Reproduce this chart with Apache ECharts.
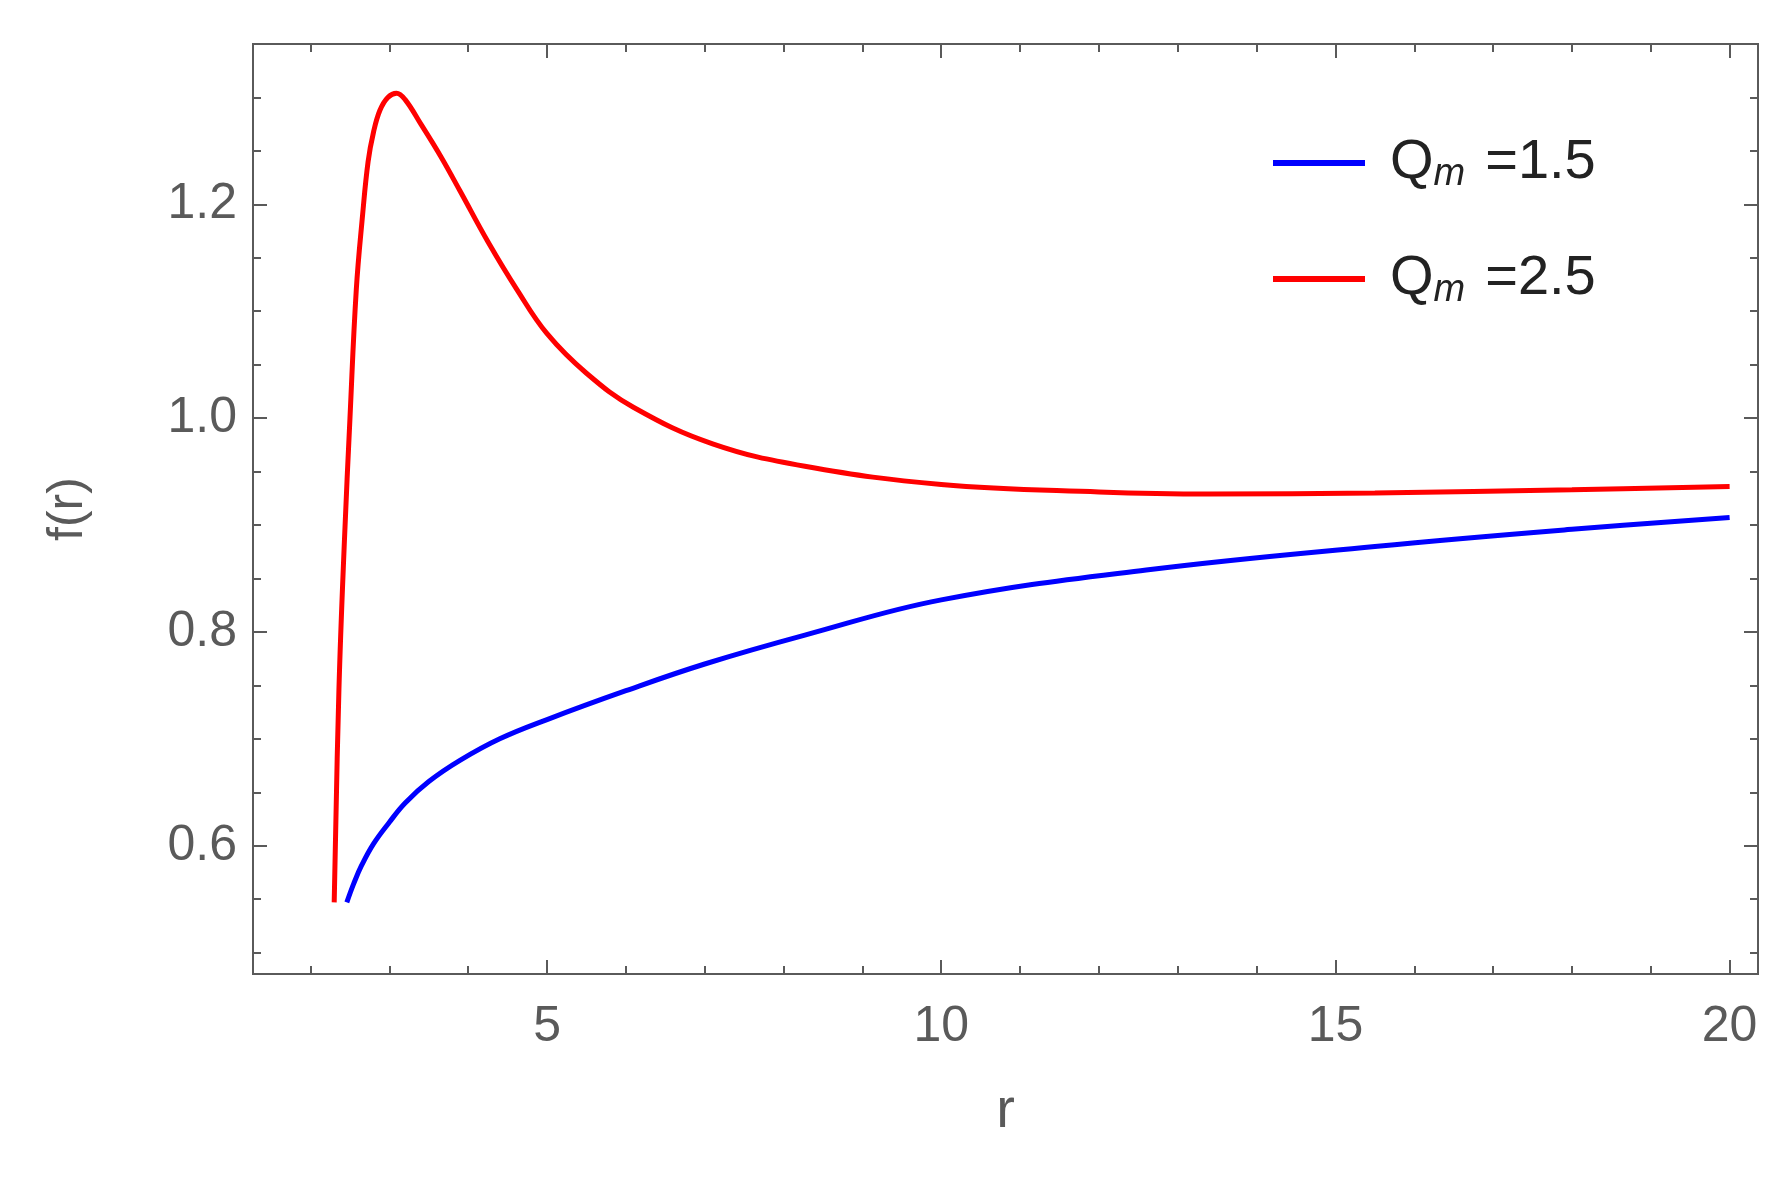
<!DOCTYPE html>
<html>
<head>
<meta charset="utf-8">
<script src="https://cdn.jsdelivr.net/npm/echarts@6/dist/echarts.min.js"></script>
<style>html,body{margin:0;padding:0;background:#fff}#main{width:1792px;height:1183px}</style>
</head>
<body>
<div id="main"></div>
<script>
// values
var redR = [2.30, 2.36, 2.43, 2.50, 2.58, 2.66, 2.73, 2.80, 2.88, 2.98, 3.09, 3.20, 3.40, 3.65, 3.90, 4.25, 4.62, 5.0, 5.5, 6.1, 7.1, 8.27, 10, 12, 13.4, 15.5, 18, 20];
var redF = [0.547, 0.746, 0.886, 1.00, 1.12, 1.19, 1.24, 1.268, 1.288, 1.300, 1.304, 1.298, 1.275, 1.245, 1.212, 1.165, 1.120, 1.079, 1.042, 1.010, 0.976, 0.955, 0.938, 0.931, 0.929, 0.930, 0.933, 0.936];
var blueR = [2.46, 2.55, 2.65, 2.8, 3.0, 3.2, 3.5, 3.9, 4.4, 5.0, 6.0, 7.0, 8.27, 10, 12.6, 15.5, 18, 20];
var blueF = [0.547, 0.565, 0.582, 0.602, 0.622, 0.640, 0.660, 0.680, 0.700, 0.718, 0.745, 0.770, 0.797, 0.830, 0.858, 0.880, 0.896, 0.907];
var xMajor = [5, 10, 15, 20];
var xMinor = [2, 3, 4, 6, 7, 8, 9, 11, 12, 13, 14, 16, 17, 18, 19];
var yMajor = [0.6, 0.8, 1.0, 1.2];
var yMinor = [0.5, 0.55, 0.65, 0.7, 0.75, 0.85, 0.9, 0.95, 1.05, 1.1, 1.15, 1.25, 1.3];

function zip(a, b) { return a.map(function (v, i) { return [v, b[i]]; }); }

var grey = '#5a5a5a';
var xr = [1.27, 20.36], yr = [0.48, 1.35];
function xa(pos, vals, len, label) {
    return {
        type: 'value', position: pos, min: xr[0], max: xr[1],
        axisLine: { show: true, lineStyle: { color: grey, width: 2 } },
        splitLine: { show: false },
        axisTick: { show: true, inside: true, length: len, customValues: vals, lineStyle: { color: grey, width: 2 } },
        axisLabel: label ? { show: true, customValues: vals, color: grey, fontSize: 50, fontFamily: 'Liberation Sans', margin: 28 } : { show: false }
    };
}
function ya(pos, vals, len, label) {
    return {
        type: 'value', position: pos, min: yr[0], max: yr[1],
        axisLine: { show: true, lineStyle: { color: grey, width: 2 } },
        splitLine: { show: false },
        axisTick: { show: true, inside: true, length: len, customValues: vals, lineStyle: { color: grey, width: 2 } },
        axisLabel: label ? { show: true, customValues: vals, color: grey, fontSize: 50, fontFamily: 'Liberation Sans', margin: 16,
            formatter: function (v) { return v.toFixed(1); } } : { show: false }
    };
}

var myChart = echarts.init(document.getElementById('main'));
var option = {
    animation: false,
    grid: { left: 253, right: 34, top: 44, bottom: 209 },
    legend: {
        orient: 'vertical', left: 1268, top: 130, itemWidth: 92, itemHeight: 6, itemGap: 58,
        icon: 'rect',
        data: ['b', 'r'],
        formatter: function (n) { return '{q|Q}{s|m}{q|=' + (n === 'b' ? '1.5' : '2.5') + '}'; },
        textStyle: {
            rich: {
                q: { fontSize: 56, color: '#222', fontFamily: 'Liberation Sans', padding: [0, 0, 0, 20] },
                s: { fontSize: 38, color: '#222', fontStyle: 'italic', fontFamily: 'Liberation Sans', verticalAlign: 'bottom', padding: [22, 0, 0, 0] }
            }
        }
    },
    xAxis: [
        Object.assign(xa('bottom', xMajor, 14, true), { name: 'r', nameLocation: 'middle', nameGap: 110,
            nameTextStyle: { color: grey, fontSize: 56, fontFamily: 'Liberation Sans' } }),
        xa('bottom', xMinor, 8, false),
        xa('top', xMajor, 14, false),
        xa('top', xMinor, 8, false)
    ],
    yAxis: [
        Object.assign(ya('left', yMajor, 14, true), { name: 'f(r)', nameLocation: 'middle', nameGap: 160,
            nameTextStyle: { color: grey, fontSize: 50, fontFamily: 'Liberation Sans' } }),
        ya('left', yMinor, 8, false),
        ya('right', yMajor, 14, false),
        ya('right', yMinor, 8, false)
    ],
    series: [
        { name: 'b', type: 'line', data: zip(blueR, blueF), smooth: 0.4, showSymbol: false,
          color: '#0000ff', lineStyle: { width: 5, color: '#0000ff' } },
        { name: 'r', type: 'line', data: zip(redR, redF), smooth: 0.4, showSymbol: false,
          color: '#ff0000', lineStyle: { width: 5, color: '#ff0000' } }
    ]
};
option && myChart.setOption(option);
</script>
</body>
</html>
